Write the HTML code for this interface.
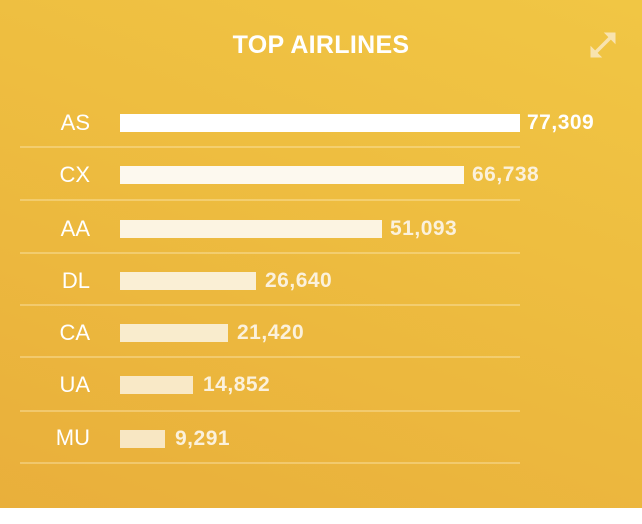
<!DOCTYPE html>
<html><head><style>
body{margin:0;width:642px;height:524px;background:#fff;overflow:hidden;font-family:"Liberation Sans",sans-serif}
.bg{position:absolute;left:0;top:0;width:642px;height:508px;background:linear-gradient(200deg,#f1c644 0%,#edbb3f 50%,#e9af3b 100%)}
.t{position:absolute;top:31px;left:0;width:642px;text-align:center;color:#fff;font-weight:bold;font-size:25px;letter-spacing:0.3px}
.lab{position:absolute;width:90px;left:0;text-align:right;color:#fff;font-size:22px;font-weight:300}
.bar{position:absolute;left:120px;height:18px}
.val{position:absolute;color:#fbf1dc;font-weight:bold;font-size:21px;letter-spacing:0.5px}
.sep{position:absolute;left:20px;width:500px;height:2px;background:rgba(255,240,200,0.35)}
</style></head><body>
<div class="bg"></div>
<div class="t">TOP AIRLINES</div>
<svg style="position:absolute;left:588px;top:30px" width="30" height="30" viewBox="0 0 30 30"><g stroke="#f8e3b0" stroke-width="3.5" fill="#f8e3b0"><line x1="6" y1="24" x2="24" y2="6"/><polygon points="17,3 27,3 27,13" stroke-width="1"/><polygon points="3,17 3,27 13,27" stroke-width="1"/></g></svg>

<div class="lab" style="top:110px">AS</div><div class="bar" style="top:114px;width:400px;background:#fff"></div><div class="val" style="left:527px;top:111px;color:#fff">77,309</div><div class="sep" style="top:146px"></div>
<div class="lab" style="top:162px">CX</div><div class="bar" style="top:166px;width:344px;background:#fdf9ef"></div><div class="val" style="left:472px;top:163px">66,738</div><div class="sep" style="top:199px"></div>
<div class="lab" style="top:216px">AA</div><div class="bar" style="top:220px;width:262px;background:#fcf4e2"></div><div class="val" style="left:390px;top:217px">51,093</div><div class="sep" style="top:252px"></div>
<div class="lab" style="top:268px">DL</div><div class="bar" style="top:272px;width:136px;background:#faefd5"></div><div class="val" style="left:265px;top:269px">26,640</div><div class="sep" style="top:304px"></div>
<div class="lab" style="top:320px">CA</div><div class="bar" style="top:324px;width:108px;background:#f9eccd"></div><div class="val" style="left:237px;top:321px">21,420</div><div class="sep" style="top:356px"></div>
<div class="lab" style="top:372px">UA</div><div class="bar" style="top:376px;width:73px;background:#f9e9c7"></div><div class="val" style="left:203px;top:373px">14,852</div><div class="sep" style="top:410px"></div>
<div class="lab" style="top:425px">MU</div><div class="bar" style="top:430px;width:45px;background:#f8e7c3"></div><div class="val" style="left:175px;top:427px">9,291</div><div class="sep" style="top:462px"></div>
</body></html>
